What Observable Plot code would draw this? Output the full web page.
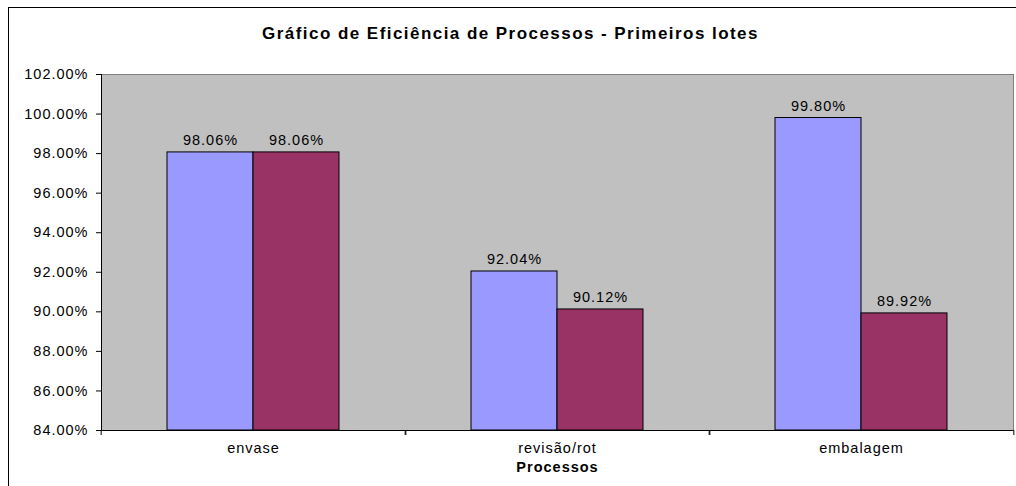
<!DOCTYPE html>
<html>
<head>
<meta charset="utf-8">
<script src="https://cdn.jsdelivr.net/npm/d3@7"></script>
<script src="https://cdn.jsdelivr.net/npm/@observablehq/plot@0.6"></script>
<style>
  html, body { margin: 0; padding: 0; background: #fff; overflow: hidden; }
  #chart { position: relative; width: 1016px; height: 486px; }
  #chart .border { position: absolute; left: 8px; top: 7px; width: 1100px; height: 600px; border: 1px solid #000; }
  #chart svg { position: absolute; left: 0; top: 0; }
  #chart svg text { letter-spacing: 1px; }
  #chart svg text.title { letter-spacing: 1.45px; }
</style>
</head>
<body>
<div id="chart"><div class="border"></div></div>
<script>
// Process categories and the two efficiency series (percent)
const categories = ["envase", "revisão/rot", "embalagem"];
const seriesNames = ["Série 1", "Série 2"];
const serie1 = [98.06, 92.04, 99.80];
const serie2 = [98.06, 90.12, 89.92];
const seriesColors = ["#9999FF", "#993366"];
const yTicks = [84, 86, 88, 90, 92, 94, 96, 98, 100, 102];
const title = "Gráfico de Eficiência de Processos - Primeiros lotes";
const xTitle = "Processos";

const W = 1016, H = 486;
const margin = {left: 100, right: 2, top: 74, bottom: 56};
const groupWidth = (W - margin.left - margin.right) / categories.length;

const rows = categories.flatMap((c, i) => [
  {cat: c, serie: seriesNames[0], value: serie1[i]},
  {cat: c, serie: seriesNames[1], value: serie2[i]}
]);

const pct = d => d.toFixed(2) + "%";

const chart = Plot.plot({
  width: W,
  height: H,
  marginLeft: margin.left,
  marginRight: margin.right,
  marginTop: margin.top,
  marginBottom: margin.bottom,
  style: {fontFamily: "'Liberation Sans', Arial, sans-serif", fontSize: "14.5px", color: "#000", background: "transparent", overflow: "visible"},
  fx: {domain: categories, padding: 0, label: null},
  x: {domain: seriesNames, paddingInner: 0, paddingOuter: 0.75, axis: null},
  y: {domain: [84, 102], label: null},
  color: {domain: seriesNames, range: seriesColors},
  marks: [
    // grey plot area with its grey border
    Plot.frame({fill: "#C0C0C0", stroke: "#808080", facet: "super"}),
    Plot.barY(rows, {fx: "cat", x: "serie", y1: 84, y2: "value", fill: "serie", stroke: "#000", strokeWidth: 1}),
    Plot.text(rows, {fx: "cat", x: "serie", y: "value", text: d => pct(d.value), lineAnchor: "bottom", dy: -7, fill: "#000"}),
    // category axis line
    Plot.ruleY([84], {stroke: "#000"}),
    Plot.axisY({ticks: yTicks, tickSize: 5, tickPadding: 8, tickFormat: pct, label: null}),
    // category labels centred under each group
    Plot.axisFx({anchor: "bottom", tickSize: 0, tickPadding: 12, label: null}),
    // tick marks on the group boundaries
    Plot.axisFx({anchor: "bottom", tickSize: 5, tickFormat: () => "", dx: -groupWidth / 2, label: null}),
    Plot.axisFx({anchor: "bottom", tickSize: 5, tickFormat: () => "", dx: groupWidth / 2, label: null}),
    // value axis line
    Plot.frame({anchor: "left", stroke: "#000", facet: "super"}),
    Plot.text([xTitle], {frameAnchor: "bottom", lineAnchor: "middle", dy: 37, fontWeight: "bold", fill: "#000", facet: "super"}),
    Plot.text([title], {frameAnchor: "top", lineAnchor: "middle", className: "title", dx: W / 2 - (margin.left + (W - margin.left - margin.right) / 2) + 2, dy: -41, fontWeight: "bold", fontSize: 17, fill: "#000", facet: "super"})
  ]
});

chart.querySelectorAll("g").forEach(g => {
  if (g.querySelector("text") && g.textContent === title) g.querySelectorAll("text").forEach(t => t.classList.add("title"));
});

document.getElementById("chart").appendChild(chart);
</script>
</body>
</html>
